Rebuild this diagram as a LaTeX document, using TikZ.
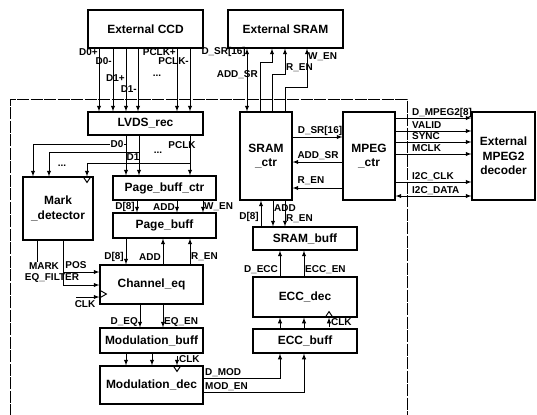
\documentclass[tikz,border=0pt]{standalone}
\usepackage{fontspec}
\setmainfont{Liberation Sans}

\tikzset{
	blk/.style={shape=rectangle, draw, line width=1.2bp, align=center, inner sep=0pt, font=\bfseries\fontsize{12}{14.5}\selectfont},
	sig/.style={inner sep=1bp, font=\bfseries\fontsize{10}{11}\selectfont},
	wire/.style={line width=0.95bp},
	frame/.style={line width=0.6bp, dash pattern={on 12bp off 1.5bp}},
}

\begin{document}
\begin{tikzpicture}[x=1bp, y=-1bp]
	\useasboundingbox (0,0) rectangle (537,414);
	% chip boundary
	\draw[frame] (10,416) -- (10,99) -- (407,99) -- (407,416);
	% blocks
	\node[blk, minimum width=115bp, minimum height=38bp] (ccd) at (145.5,29) {External CCD};
	\node[blk, minimum width=115bp, minimum height=38bp] (sram) at (285.5,29) {External SRAM};
	\node[blk, minimum width=115bp, minimum height=23bp] (lvds) at (145.5,123.5) {LVDS\_rec};
	\node[blk, minimum width=52bp, minimum height=88bp] (sramctr) at (266,156) {SRAM\\\_ctr};
	\node[blk, minimum width=52bp, minimum height=88bp] (mpegctr) at (369,156) {MPEG\\\_ctr};
	\node[blk, minimum width=63bp, minimum height=88bp] (mpegdec) at (503.5,156) {External\\MPEG2\\decoder};
	\node[blk, minimum width=70bp, minimum height=63bp] (mark) at (58,208.5) {Mark\\\_detector};
	\node[blk, minimum width=103bp, minimum height=24bp] (pbctr) at (164.5,188) {Page\_buff\_ctr};
	\node[blk, minimum width=103bp, minimum height=25bp] (pbuf) at (164.5,225.5) {Page\_buff};
	\node[blk, minimum width=103bp, minimum height=39bp] (cheq) at (151.5,284.5) {Channel\_eq};
	\node[blk, minimum width=103bp, minimum height=25bp] (modbuf) at (151.5,340.5) {Modulation\_buff};
	\node[blk, minimum width=103bp, minimum height=38bp] (moddec) at (151.5,385) {Modulation\_dec};
	\node[blk, minimum width=104bp, minimum height=23bp] (srambuf) at (305,238.5) {SRAM\_buff};
	\node[blk, minimum width=104bp, minimum height=40bp] (eccdec) at (305,297) {ECC\_dec};
	\node[blk, minimum width=104bp, minimum height=24bp] (eccbuf) at (305,341) {ECC\_buff};

	% CCD -> LVDS_rec
	\draw[wire, -latex] (ccd.south -| 99,0) -- (lvds.north -| 99,0);
	\draw[wire, -latex] (ccd.south -| 113,0) -- (lvds.north -| 113,0);
	\draw[wire, -latex] (ccd.south -| 126,0) -- (lvds.north -| 126,0);
	\draw[wire, -latex] (ccd.south -| 138,0) -- (lvds.north -| 138,0);
	\draw[wire, -latex] (ccd.south -| 177,0) -- (lvds.north -| 177,0);
	\draw[wire, -latex] (ccd.south -| 190,0) -- (lvds.north -| 190,0);
	\node[sig, anchor=east] (tD0p) at (99,52) {D0+};
	\node[sig, anchor=east] (tD0m) at (113,61) {D0-};
	\node[sig, anchor=east] (tD1p) at (126,78) {D1+};
	\node[sig, anchor=east] (tD1m) at (138,89) {D1-};
	\node[sig] (tdots1) at (157,76) {...};
	\node[sig, anchor=east] (tCKp) at (177,52) {PCLK+};
	\node[sig, anchor=east] (tCKm) at (190,61) {PCLK-};

	% External SRAM <-> SRAM_ctr
	\draw[wire, latex-latex] (sram.south -| 247,0) -- (sramctr.north -| 247,0);
	\draw[wire, -latex] (sramctr.north -| 260,0) |- (272,62) -- (sram.south -| 272,0);
	\draw[wire, -latex] (sramctr.north -| 272,0) |- (285,74) -- (sram.south -| 285,0);
	\draw[wire, -latex] (sramctr.north -| 285,0) |- (307,87) -- (sram.south -| 307,0);
	\node[sig, anchor=east] (tDSRa) at (247,52) {D\_SR[16]};
	\node[sig, anchor=east] (tADSa) at (259,75) {ADD\_SR};
	\node[sig, anchor=west] (tRENa) at (285,68) {R\_EN};
	\node[sig, anchor=west] (tWENa) at (307,57) {W\_EN};

	% SRAM_ctr <-> MPEG_ctr
	\draw[wire, -latex] (sramctr.east |- 0,137) -- (mpegctr.west |- 0,137);
	\draw[wire, -latex] (mpegctr.west |- 0,162) -- (sramctr.east |- 0,162);
	\draw[wire, -latex] (mpegctr.west |- 0,188) -- (sramctr.east |- 0,188);
	\node[sig] (tDSRb) at (320,131) {D\_SR[16]};
	\node[sig] (tADSb) at (318,156) {ADD\_SR};
	\node[sig] (tRENb) at (311,181) {R\_EN};

	% MPEG_ctr -> MPEG2 decoder
	\draw[wire, -latex] (mpegctr.east |- 0,118) -- (mpegdec.west |- 0,118);
	\draw[wire, -latex] (mpegctr.east |- 0,131) -- (mpegdec.west |- 0,131);
	\draw[wire, -latex] (mpegctr.east |- 0,142) -- (mpegdec.west |- 0,142);
	\draw[wire, -latex] (mpegctr.east |- 0,154) -- (mpegdec.west |- 0,154);
	\draw[wire, -latex] (mpegctr.east |- 0,182) -- (mpegdec.west |- 0,182);
	\draw[wire, latex-latex] (mpegctr.east |- 0,196) -- (mpegdec.west |- 0,196);
	\node[sig, anchor=base west] (tDMP) at (411,115) {D\_MPEG2[8]};
	\node[sig, anchor=base west] (tVAL) at (411,128) {VALID};
	\node[sig, anchor=base west] (tSYN) at (411,139) {SYNC};
	\node[sig, anchor=base west] (tMCK) at (411,151) {MCLK};
	\node[sig, anchor=base west] (tICK) at (411,179) {I2C\_CLK};
	\node[sig, anchor=base west] (tIDA) at (411,193) {I2C\_DATA};

	% SRAM_ctr <-> SRAM_buff
	\draw[wire, -latex] (srambuf.north -| 261,0) -- (sramctr.south -| 261,0);
	\draw[wire, -latex] (sramctr.south -| 273,0) -- (srambuf.north -| 273,0);
	\draw[wire, -latex] (sramctr.south -| 285,0) -- (srambuf.north -| 285,0);
	\node[sig, anchor=east] (tD8c) at (260,217) {D[8]};
	\node[sig, anchor=west] (tADc) at (273,208) {ADD};
	\node[sig, anchor=west] (tRENc) at (285,219) {R\_EN};

	% ECC_dec / ECC_buff
	\draw[wire, -latex] (eccdec.north -| 280,0) -- (srambuf.south -| 280,0);
	\draw[wire, -latex] (eccdec.north -| 304,0) -- (srambuf.south -| 304,0);
	\draw[wire, -latex] (eccbuf.north -| 280,0) -- (eccdec.south -| 280,0);
	\draw[wire, -latex] (eccbuf.north -| 304,0) -- (eccdec.south -| 304,0);
	\coordinate (eccclk) at (329,327);
	\draw[wire, -latex] (eccclk) -- (eccdec.south -| 329,0);
	\draw[wire] (eccdec.south -| 325,0) -- ++(4,-6) -- ++(4,6);
	\node[sig, anchor=east] (tDECC) at (279,270) {D\_ECC};
	\node[sig, anchor=west] (tEEN) at (304,270) {ECC\_EN};
	\node[sig, anchor=west] (tCKe) at (330,322) {CLK};

	% Modulation_dec -> ECC_buff
	\draw[wire, -latex] (moddec.east |- 0,378) -| (eccbuf.south -| 280,0);
	\draw[wire, -latex] (moddec.east |- 0,392) -| (eccbuf.south -| 304,0);
	\node[sig, anchor=base west] (tDMOD) at (204,375) {D\_MOD};
	\node[sig, anchor=base west] (tMEN) at (204,389) {MOD\_EN};

	% LVDS_rec -> Page_buff_ctr, Mark_detector
	\draw[wire, -latex] (lvds.south -| 126,0) -- (pbctr.north -| 126,0);
	\draw[wire, -latex] (lvds.south -| 139,0) -- (pbctr.north -| 139,0);
	\draw[wire, -latex] (lvds.south -| 190,0) -- (pbctr.north -| 190,0);
	\coordinate (jd0) at (126,144);
	\coordinate (jd1) at (139,152);
	\coordinate (jck) at (190,163);
	\draw[wire, -latex] (jd0) -| (mark.north -| 33,0);
	\draw[wire, -latex] (jd1) -| (mark.north -| 49,0);
	\draw[wire, -latex] (jck) -| (mark.north -| 87,0);
	\draw[wire] (mark.north -| 83,0) -- ++(4,6) -- ++(4,-6);
	\node[sig, fill=white] (tD0) at (117,144) {D0};
	\node[sig] (tD1) at (133,157) {D1};
	\node[sig] (tPCK) at (182,145) {PCLK};
	\node[sig] (tdots2) at (158,153) {...};
	\node[sig] (tdots3) at (62,166) {...};

	% Page_buff_ctr -> Page_buff
	\draw[wire, -latex] (pbctr.south -| 137,0) -- (pbuf.north -| 137,0);
	\draw[wire, -latex] (pbctr.south -| 177,0) -- (pbuf.north -| 177,0);
	\draw[wire, -latex] (pbctr.south -| 203,0) -- (pbuf.north -| 203,0);
	\node[sig, anchor=east] (tD8a) at (136,207) {D[8]};
	\node[sig, anchor=east] (tADa) at (176,207) {ADD};
	\node[sig, anchor=west] (tWENb) at (203,207) {W\_EN};

	% Page_buff <-> Channel_eq
	\draw[wire, -latex] (pbuf.south -| 126,0) -- (cheq.north -| 126,0);
	\draw[wire, -latex] (cheq.north -| 163,0) -- (pbuf.south -| 163,0);
	\draw[wire, -latex] (cheq.north -| 190,0) -- (pbuf.south -| 190,0);
	\node[sig, anchor=east] (tD8b) at (125,257) {D[8]};
	\node[sig, anchor=east] (tADb) at (162,257) {ADD};
	\node[sig, anchor=west] (tRENd) at (190,257) {R\_EN};

	% Mark_detector -> Channel_eq
	\coordinate (markend) at (37,262);
	\coordinate (jpos) at (63,272);
	\coordinate (cheqclk) at (76,297);
	\draw[wire] (mark.south -| 37,0) -- (markend);
	\draw[wire, -latex] (mark.south -| 63,0) |- (cheq.west |- 0,285);
	\draw[wire, -latex] (jpos) -- (cheq.west |- 0,272);
	\draw[wire, -latex] (cheqclk) -- (cheq.west |- 0,297);
	\draw[wire] (cheq.west |- 0,290) -- ++(7,4) -- ++(-7,4);
	\node[sig] (tMARK) at (44,266) {MARK};
	\node[sig] (tPOS) at (76,265) {POS};
	\node[sig] (tEQF) at (52,278) {EQ\_FILTER};
	\node[sig] (tCKq) at (85,304) {CLK};

	% Channel_eq -> Modulation_buff -> Modulation_dec
	\draw[wire, -latex] (cheq.south -| 140,0) -- (modbuf.north -| 140,0);
	\draw[wire, -latex] (cheq.south -| 163,0) -- (modbuf.north -| 163,0);
	\node[sig, anchor=east] (tDEQ) at (139,322) {D\_EQ};
	\node[sig, anchor=west] (tEQEN) at (163,322) {EQ\_EN};
	\draw[wire, -latex] (modbuf.south -| 126,0) -- (moddec.north -| 126,0);
	\draw[wire, -latex] (modbuf.south -| 152,0) -- (moddec.north -| 152,0);
	\coordinate (modclk) at (177,356);
	\draw[wire, -latex] (modclk) -- (moddec.north -| 177,0);
	\draw[wire] (moddec.north -| 173,0) -- ++(4,6) -- ++(4,-6);
	\node[sig, anchor=west] (tCKm2) at (178,359) {CLK};
\end{tikzpicture}
\end{document}
